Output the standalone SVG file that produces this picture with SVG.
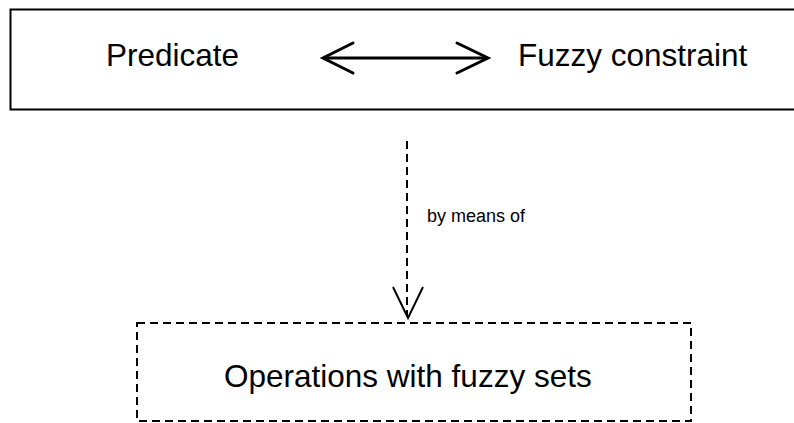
<svg xmlns="http://www.w3.org/2000/svg" width="794" height="423" viewBox="0 0 794 423">
  <style>
    .lbl { font-family: "Liberation Sans", Arial, sans-serif; fill: #000; }
    .big { font-size: 31.5px; }
    .small { font-size: 18px; }
    .dash { fill: none; stroke: #000; stroke-width: 2; stroke-dasharray: 8 5; }
  </style>
  <rect width="794" height="423" fill="#fff"/>

  <g id="concept-box">
    <rect x="10.5" y="9.5" width="800" height="100" fill="#fff" stroke="#000" stroke-width="2"/>
    <text class="lbl big" x="106" y="66">Predicate</text>
    <text class="lbl big" x="518" y="66">Fuzzy constraint</text>
  </g>

  <g id="operations-box">
    <rect class="dash" x="137" y="323" width="554" height="98"/>
    <text class="lbl big" x="224" y="387">Operations with fuzzy sets</text>
  </g>

  <g id="connectors" fill="none" stroke="#000">
    <!-- equivalence arrow -->
    <g stroke-width="3" stroke-linecap="round" stroke-linejoin="miter">
      <line x1="324" y1="58" x2="487" y2="58"/>
      <polyline points="353,43 323,58 353,73"/>
      <polyline points="457,43 488,58 457,73"/>
    </g>
    <!-- "by means of" dependency -->
    <line x1="407" y1="141" x2="407" y2="316" stroke-width="2" stroke-dasharray="8 5"/>
    <polyline points="393,287 408,318 423,287" stroke-width="2"/>
    <text class="lbl small" x="427" y="222" stroke="none" fill="#000">by means of</text>
  </g>
</svg>
